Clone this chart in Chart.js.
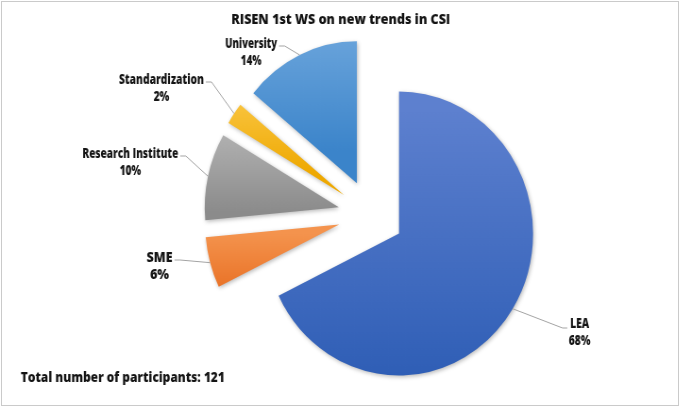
<!DOCTYPE html>
<html lang="en">
<head>
    <meta charset="UTF-8">
    <title>RISEN 1st WS on new trends in CSI</title>
    <style>
        html, body {
            margin: 0;
            padding: 0;
            background: #fff;
            overflow: hidden;
        }
        /* the original picture is slightly squeezed horizontally */
        .wrap {
            position: absolute;
            left: 0;
            top: 0;
            width: 720px;
            height: 407px;
            transform: scaleX(0.944);
            transform-origin: 0 0;
        }
        .frame {
            position: absolute;
            left: 1px;
            top: 1px;
            width: 676px;
            height: 403px;
            border: 1px solid #cacaca;
        }
    </style>
    <script src="https://cdn.jsdelivr.net/npm/chart.js"></script>
</head>
<body>
    <div class="wrap"><canvas id="chart"></canvas></div>
    <div class="frame"></div>

    <script>
        const chartTitle = 'RISEN 1st WS on new trends in CSI';
        const footnote = 'Total number of participants: 121';
        const categories = ['LEA', 'SME', 'Research Institute', 'Standardization', 'University'];
        const participants = [82, 7, 12, 3, 17];

        const topColors = ['#5d80cf', '#f4934d', '#b4b4b4', '#fcca4c', '#74abdf'];
        const bottomColors = ['#2c5cb4', '#e86e22', '#8b8b8b', '#eea800', '#3b84ca'];

        const SQUEEZE = 0.944;
        const PIE_RADIUS = 142;
        const EXPLODE = 140;          // chart.js moves a slice by offset / 4

        // where the two-line data labels sit, and how wide the name is in the picture
        const labelSpots = [
            { x: 614, y: 324, w: 19, side: 'right' },
            { x: 169, y: 258, w: 26, side: 'left' },
            { x: 138, y: 154, w: 96, side: 'left' },
            { x: 171, y: 80, w: 85, side: 'left' },
            { x: 266, y: 44, w: 52, side: 'left' }
        ];

        const total = participants.reduce((a, b) => a + b, 0);

        // keep every slice the same radius when exploded, and give each its own gradient
        const explodePlugin = {
            id: 'explode',
            afterUpdate(chart) {
                const ctx = chart.ctx;
                chart.getDatasetMeta(0).data.forEach((arc, i) => {
                    const shift = (arc.options.offset || 0) / 4;
                    const fix = 1 - Math.sin(Math.min(Math.PI, arc.circumference));
                    const grow = shift * fix;
                    const R = arc.outerRadius;
                    const s0 = arc.startAngle, e0 = arc.endAngle;
                    const half = (s0 + e0) / 2;
                    arc.outerRadius = R - grow;
                    const pad = grow / (2 * Math.PI * R);
                    arc.startAngle = s0 - pad;
                    arc.endAngle = e0 + pad;

                    const cy = arc.y + Math.sin(half) * shift;
                    let top = cy, bottom = cy;
                    for (let k = 0; k <= 40; k++) {
                        const a = s0 + (e0 - s0) * k / 40;
                        const y = cy + Math.sin(a) * R;
                        top = Math.min(top, y);
                        bottom = Math.max(bottom, y);
                    }
                    const g = ctx.createLinearGradient(0, top, 0, bottom);
                    g.addColorStop(0, topColors[i]);
                    g.addColorStop(1, bottomColors[i]);
                    arc.options = Object.assign({}, arc.options, { backgroundColor: g });
                });
            },
            beforeDatasetsDraw(chart) {
                const ctx = chart.ctx;
                ctx.save();
                ctx.shadowColor = 'rgba(0,0,0,0.28)';
                ctx.shadowBlur = 4;
                ctx.shadowOffsetX = 1;
                ctx.shadowOffsetY = 1.5;
            },
            afterDatasetsDraw(chart) {
                chart.ctx.restore();
            }
        };

        function drawText(ctx, text, x, y, k, align) {
            ctx.save();
            ctx.translate(x, y);
            ctx.scale(k, 1);
            ctx.textAlign = align;
            ctx.textBaseline = 'middle';
            ctx.fillText(text, 0, 0);
            ctx.restore();
        }

        // horizontal factor so that text spans the given picture width
        function fitFactor(ctx, text, screenWidth) {
            return (screenWidth / SQUEEZE) / ctx.measureText(text).width;
        }

        const labelPlugin = {
            id: 'sliceLabels',
            afterDraw(chart) {
                const ctx = chart.ctx;
                ctx.save();
                ctx.fillStyle = '#141414';

                ctx.font = '800 14px "Open Sans"';
                drawText(ctx, chartTitle, 361, 20, fitFactor(ctx, chartTitle, 219), 'center');

                ctx.font = '800 14.5px "Open Sans"';
                drawText(ctx, footnote, 22, 378, fitFactor(ctx, footnote, 204), 'left');

                ctx.font = '800 14px "Open Sans"';
                const meta = chart.getDatasetMeta(0);
                meta.data.forEach((arc, i) => {
                    const spot = labelSpots[i];
                    const name = categories[i];
                    const pct = Math.round(participants[i] / total * 100) + '%';
                    const k = fitFactor(ctx, name, spot.w);
                    drawText(ctx, name, spot.x, spot.y, k, 'center');
                    drawText(ctx, pct, spot.x, spot.y + 17, k, 'center');

                    const w = spot.w / SQUEEZE;
                    const half = (arc.startAngle + arc.endAngle) / 2;
                    const reach = (arc.options.offset || 0) / 4 + PIE_RADIUS;
                    const px = arc.x + Math.cos(half) * reach;
                    const py = arc.y + Math.sin(half) * reach;
                    let sx, ex, ly;
                    if (spot.side === 'left') {
                        sx = spot.x + w / 2 + 2;
                        ex = sx + 6;
                        ly = spot.y + 2;
                    } else {
                        sx = spot.x - w / 2 - 3;
                        ex = sx - 5;
                        ly = spot.y + 4;
                    }
                    ctx.beginPath();
                    ctx.strokeStyle = '#a3a3a3';
                    ctx.lineWidth = 1;
                    ctx.moveTo(sx, ly);
                    ctx.lineTo(ex, ly);
                    ctx.lineTo(px, py);
                    ctx.stroke();
                });
                ctx.restore();
            }
        };

        new Chart(document.getElementById('chart'), {
            type: 'pie',
            data: {
                labels: categories,
                datasets: [{
                    data: participants,
                    backgroundColor: topColors,
                    borderWidth: 0,
                    offset: EXPLODE,
                    radius: PIE_RADIUS
                }]
            },
            options: {
                responsive: true,
                maintainAspectRatio: false,
                animation: false,
                layout: {
                    padding: { left: 66, top: 23, right: 0, bottom: 0 }
                },
                plugins: {
                    legend: { display: false },
                    title: { display: false },
                    tooltip: { enabled: false }
                }
            },
            plugins: [explodePlugin, labelPlugin]
        });
    </script>
</body>
</html>
